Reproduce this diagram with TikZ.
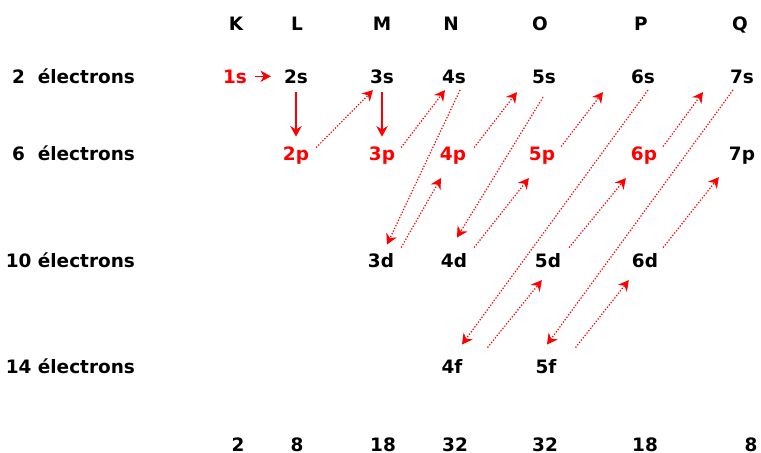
\documentclass[tikz,border=0pt]{standalone}
\usepackage{fontspec}
\setmainfont{DejaVu Sans}
\usetikzlibrary{arrows.meta}
\definecolor{shellred}{HTML}{FF0000}

\begin{document}
\begin{tikzpicture}[
    x=0.02cm, y=-0.02cm,
    every node/.style={font=\fontsize{10.5}{12}\selectfont\bfseries, anchor=base, inner sep=1pt, text height=7.6pt, text depth=0pt},
    orb/.style={text=black},
    orbred/.style={text=shellred},
    label/.style={anchor=base east},
    fill arrow/.style={->, >={Stealth[length=6pt,width=6.5pt]}, shellred, line width=0.7pt},
    jump/.style={fill arrow, densely dotted},
]
\useasboundingbox (0,0) rectangle (761,453);

% shells
\node (K) at (236,31) {K};
\node (L) at (297,31) {L};
\node (M) at (382,31) {M};
\node (N) at (451,31) {N};
\node (O) at (540,31) {O};
\node (P) at (641,31) {P};
\node (Q) at (740,31) {Q};

% rows
\node[label] (n2) at (137,83) {2~~électrons};
\node[label] (n6) at (137,160) {6~~électrons};
\node[label] (n10) at (137,267) {10 électrons};
\node[label] (n14) at (137,373) {14 électrons};

\node[orbred] (s1) at (235,83) {1s};
\node[orb] (s2) at (296,83) {2s};
\node[orb] (s3) at (382,83) {3s};
\node[orb] (s4) at (454,83) {4s};
\node[orb] (s5) at (544,83) {5s};
\node[orb] (s6) at (643,83) {6s};
\node[orb] (s7) at (742,83) {7s};

\node[orbred] (p2) at (296,160) {2p};
\node[orbred] (p3) at (382,160) {3p};
\node[orbred] (p4) at (453,160) {4p};
\node[orbred] (p5) at (542,160) {5p};
\node[orbred] (p6) at (644,160) {6p};
\node[orb] (p7) at (742,160) {7p};

\node[orb] (d3) at (381,267) {3d};
\node[orb] (d4) at (454,267) {4d};
\node[orb] (d5) at (548,267) {5d};
\node[orb] (d6) at (645,267) {6d};

\node[orb] (f4) at (452,373) {4f};
\node[orb] (f5) at (546,373) {5f};

% totals
\node (t1) at (238,451) {2};
\node (t2) at (297,451) {8};
\node (t3) at (383,451) {18};
\node (t4) at (455,451) {32};
\node (t5) at (545,451) {32};
\node (t6) at (645,451) {18};
\node (t7) at (751,451) {8};

% filling order
\draw[fill arrow, shorten <=3.4pt, shorten >=6.3pt] (s1.east) -- (s2.west);
\draw[fill arrow, shorten <=4pt, shorten >=4.5pt] (s2.south) -- (p2.north);
\draw[fill arrow, shorten <=4pt, shorten >=4.5pt] (s3.south) -- (p3.north);

\draw[jump] ([shift={(5,3)}]p2.north east) -- ([shift={(5,5)}]s3.south west);
\draw[jump] ([shift={(4,3)}]p3.north east) -- ([shift={(5,5)}]s4.south west);
\draw[jump] ([shift={(6,5)}]s4.south) -- ([shift={(6,-7)}]d3.north);
\draw[jump] ([shift={(5,-4)}]d3.north east) -- ([shift={(3,16)}]p4.south west);
\draw[jump] ([shift={(6,3)}]p4.north east) -- ([shift={(-13,7)}]s5.south west);
\draw[jump] ([shift={(-1,12)}]s5.south) -- ([shift={(3,-14)}]d4.north);
\draw[jump] ([shift={(5,-4)}]d4.north east) -- ([shift={(2,16)}]p5.south west);
\draw[jump] ([shift={(4,2)}]p5.north east) -- ([shift={(-26,7)}]s6.south west);
\draw[jump] ([shift={(5,5)}]s6.south) -- ([shift={(10,-13)}]f4.north);
\draw[jump] ([shift={(23,-10)}]f4.north east) -- ([shift={(9,11)}]d5.south west);
\draw[jump] ([shift={(6,-4)}]d5.north east) -- ([shift={(-3,16)}]p6.south west);
\draw[jump] ([shift={(4,2)}]p6.north east) -- ([shift={(-25,7)}]s7.south west);
\draw[jump] ([shift={(-9,5)}]s7.south) -- ([shift={(1,-13)}]f5.north);
\draw[jump] ([shift={(17,-10)}]f5.north east) -- ([shift={(-1,11)}]d6.south west);
\draw[jump] ([shift={(3,-4)}]d6.north east) -- ([shift={(-8,15)}]p7.south west);
\end{tikzpicture}
\end{document}
